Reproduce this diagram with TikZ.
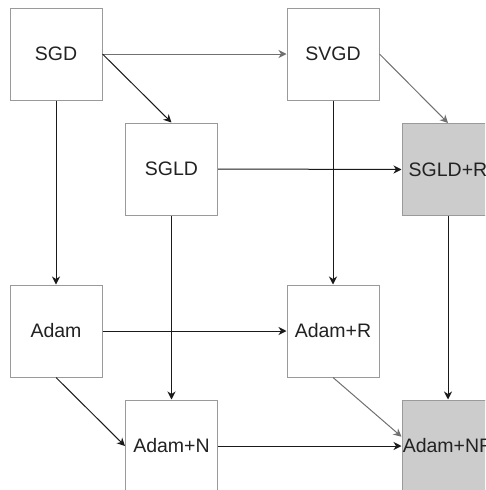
\documentclass[tikz,border=0pt]{standalone}
\usepackage{fontspec}
\setmainfont{Liberation Sans}
\usetikzlibrary{arrows.meta,calc}
\definecolor{boxline}{HTML}{9A9A9A}
\definecolor{boxfill}{HTML}{CCCCCC}
\definecolor{inkdark}{HTML}{1A1A1A}
\definecolor{inkgray}{HTML}{707070}
\definecolor{labeltext}{HTML}{222222}
\tikzset{
  stage/.style={rectangle, draw=boxline, line width=1pt, fill=white,
    minimum width=92pt, minimum height=92pt, inner sep=0pt,
    font=\fontsize{19.5}{23}\selectfont, text=labeltext},
  shaded/.style={stage, fill=boxfill},
  link/.style={draw=inkdark, line width=1pt,
    -{Stealth[length=8pt,width=8pt,inset=2.5pt]}},
  softlink/.style={link, draw=inkgray},
}
\begin{document}
\begin{tikzpicture}[x=1pt,y=-1pt]
\useasboundingbox (0,0) rectangle (485,490);
\clip (0,0) rectangle (485,490);
% boxes
\node[stage]  (sgd)    at (56,54)    {SGD};
\node[stage]  (svgd)   at (333,54)   {SVGD};
\node[stage]  (sgld)   at (171.5,169) {SGLD};
\node[shaded] (sgldr)  at (448,169.5) {SGLD+R};
\node[stage]  (adam)   at (56,331)   {Adam};
\node[stage]  (adamr)  at (333,331)  {Adam+R};
\node[stage]  (adamn)  at (171.5,446) {Adam+N};
\node[shaded] (adamnr) at (448,446)  {Adam+NR};
% connectors
\draw[softlink] (sgd.east) -- (svgd.west);
\draw[link] (sgd.east) -- (sgld.north);
\draw[link] (sgd.south) -- (adam.north);
\draw[softlink] (svgd.east) -- (sgldr.north);
\draw[link] (svgd.south) -- (adamr.north);
\draw[link] (sgld.east) -- (sgldr.west);
\draw[link] (sgld.south) -- (adamn.north);
\draw[link] (sgldr.south) -- (adamnr.north);
\draw[link] (adam.east) -- (adamr.west);
\draw[link] (adam.south) -- (adamn.west);
\draw[link] (adamn.east) -- (adamnr.west);
\coordinate (nrin) at ($(adamnr.north west)!0.4!(adamnr.south west)$);
\draw[softlink] (adamr.south) -- (nrin);
\end{tikzpicture}
\end{document}
